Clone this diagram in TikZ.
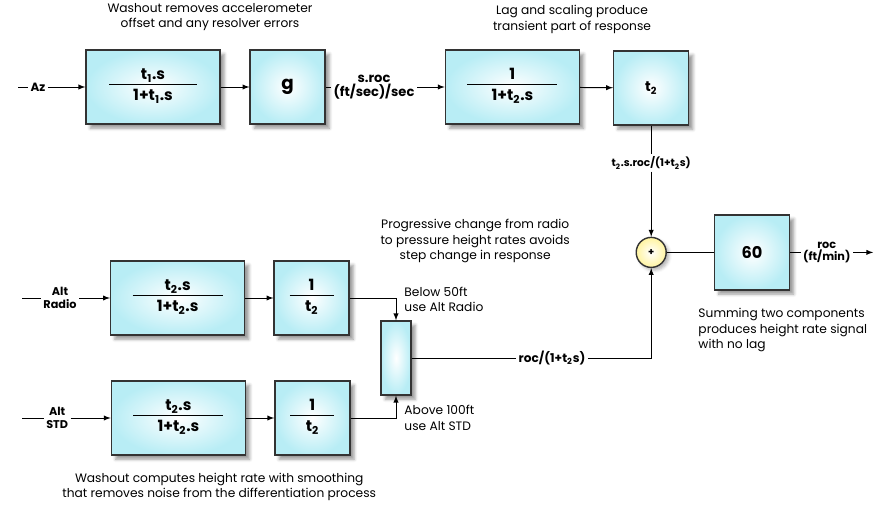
\documentclass[tikz,border=0pt]{standalone}
\usepackage{fontspec}
\setmainfont{Poppins}
\usetikzlibrary{shapes,arrows,positioning,shadows.blur}

\definecolor{boxcyan}{RGB}{184,237,245}
\definecolor{sumyellow}{RGB}{255,244,160}
\setlength{\arrayrulewidth}{0.7pt}
\newcommand{\frc}[3]{\begin{tabular}{@{}c@{}}\makebox[#1]{#2}\\[-1pt]\hline\rule{0pt}{11.5pt}#3\end{tabular}}

\tikzset{
	blk/.style={draw=black!80, line width=1pt, inner color=white, outer color=boxcyan,
		blur shadow={shadow xshift=3pt, shadow yshift=-3pt, shadow opacity=40},
		font=\bfseries\fontsize{11}{12}\selectfont},
	wideblk/.style={blk, minimum width=3.35cm, minimum height=1.85cm},
	smallblk/.style={blk, minimum width=1.875cm, minimum height=1.85cm},
	note/.style={align=center, inner sep=0pt, font=\fontsize{8.7}{11}\selectfont},
	sig/.style={align=center, inner sep=1.5pt, font=\bfseries\fontsize{8}{9}\selectfont},
}

\begin{document}
\begin{tikzpicture}[line width=0.7pt]
	\useasboundingbox (0,0) rectangle (22.25,-12.625);
	
	% top row
	\node[wideblk] (hpf) at (3.825,-2.175) {\frc{2.2cm}{t\textsubscript{1}.s}{1+t\textsubscript{1}.s}};
	\node[smallblk, font=\bfseries\fontsize{13}{14}\selectfont] (gain) at (7.19,-2.175) {g};
	\node[wideblk] (lag) at (12.81,-2.175) {\frc{2.25cm}{1}{1+t\textsubscript{2}.s}};
	\node[smallblk, font=\bfseries\fontsize{10}{11}\selectfont] (tau) at (16.28,-2.2) {t\textsubscript{2}};
	\node[shape=circle, draw=black!80, line width=1pt, minimum size=0.75cm, inner sep=0pt,
		inner color=white, outer color=sumyellow, blur shadow={shadow xshift=2pt, shadow yshift=-2pt, shadow opacity=30},
		font=\bfseries\fontsize{7}{8}\selectfont] (sum) at (16.28,-6.31) {+};
	\node[blk, minimum width=1.875cm, minimum height=1.875cm, font=\bfseries\fontsize{11.5}{12}\selectfont] (scale) at (18.8,-6.31) {60};
	
	% bottom rows
	\node[wideblk] (hpfr) at (4.44,-7.45) {\frc{2.25cm}{t\textsubscript{2}.s}{1+t\textsubscript{2}.s}};
	\node[smallblk] (invr) at (7.79,-7.45) {\frc{1.1cm}{1}{t\textsubscript{2}}};
	\node[wideblk] (hpfs) at (4.46,-10.45) {\frc{2.25cm}{t\textsubscript{2}.s}{1+t\textsubscript{2}.s}};
	\node[smallblk] (invs) at (7.81,-10.45) {\frc{1.1cm}{1}{t\textsubscript{2}}};
	\node[blk, minimum width=0.75cm, minimum height=1.85cm] (fade) at (9.9,-8.95) {};
	
	% signal labels
	\coordinate (azin) at (0.45,-2.175);
	\node[sig, font=\bfseries\fontsize{8.5}{9}\selectfont] (az) at (0.95,-2.175) {Az};
	\node[sig, font=\bfseries\fontsize{9.3}{10}\selectfont] (sroc) at (9.35,-2.175) {s.roc\\(ft/sec)/sec};
	\node[sig, font=\bfseries\fontsize{7.5}{9}\selectfont] (hroc) at (16.28,-4.075) {t\textsubscript{2}.s.roc/(1+t\textsubscript{2}s)};
	\node[sig] (rocmin) at (20.67,-6.31) {roc\\(ft/min)};
	\coordinate (out) at (21.83,-6.31);
	\coordinate (radioin) at (0.55,-7.45);
	\node[sig] (radio) at (1.5,-7.45) {Alt\\Radio};
	\coordinate (stdin) at (0.55,-10.45);
	\node[sig] (std) at (1.43,-10.45) {Alt\\STD};
	\node[sig, font=\bfseries\fontsize{8.6}{9}\selectfont] (lagroc) at (13.8,-8.95) {roc/(1+t\textsubscript{2}s)};
	
	% notes
	\node[note] (n1) at (5.25,-0.43) {Washout removes accelerometer\\offset and any resolver errors};
	\node[note] (n2) at (14.3,-0.49) {Lag and scaling produce\\transient part of response};
	\node[note] (n3) at (11.88,-6.03) {Progressive change from radio\\to pressure height rates avoids\\step change in response};
	\node[note, align=left, anchor=west] (n4) at (17.45,-8.25) {Summing two components\\produces height rate signal\\with no lag};
	\node[note, align=left, anchor=west] (n5) at (10.1,-7.48) {Below 50ft\\use Alt Radio};
	\node[note, align=left, anchor=west] (n6) at (10.1,-10.45) {Above 100ft\\use Alt STD};
	\node[note] (n7) at (5.48,-12.18) {Washout computes height rate with smoothing\\that removes noise from the differentiation process};
	
	\path [-]
	(azin) edge (az)
	(gain) edge (sroc)
	(tau) edge (hroc)
	(sum) edge (scale)
	(scale) edge (rocmin)
	(radioin) edge (radio)
	(stdin) edge (std)
	(fade) edge (lagroc);
	
	\path [-latex]
	(az) edge (hpf)
	(hpf) edge (gain)
	(sroc) edge (lag)
	(lag) edge (tau)
	(hroc) edge (sum)
	(rocmin) edge (out)
	(radio) edge (hpfr)
	(hpfr) edge (invr)
	(std) edge (hpfs)
	(hpfs) edge (invs);
	
	\draw[-latex] (invr) -| (fade);
	\draw[-latex] (invs) -| (fade);
	\draw[-latex] (lagroc) -| (sum);
\end{tikzpicture}
\end{document}
